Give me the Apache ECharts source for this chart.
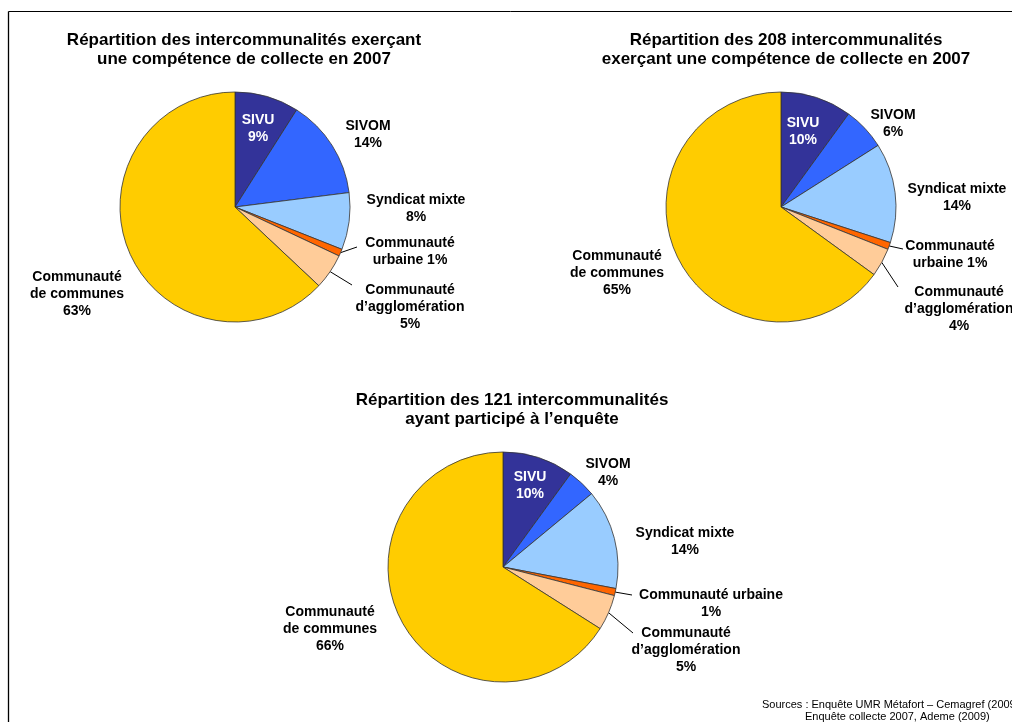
<!DOCTYPE html>
<html><head><meta charset="utf-8">
<script src="https://cdn.jsdelivr.net/npm/echarts@6/dist/echarts.min.js"></script>
<style>html,body{margin:0;padding:0;background:#fff}#c{width:1012px;height:722px}</style>
</head><body><div id="c"></div>
<script>
// ---- data ----
const categories = ['SIVU', 'SIVOM', 'Syndicat mixte', 'Communauté urbaine', 'Communauté d’agglomération', 'Communauté de communes'];
const values1 = [9, 14, 8, 1, 5, 63];
const values2 = [10, 6, 14, 1, 4, 65];
const values3 = [10, 4, 14, 1, 5, 66];
const labels1 = ['SIVU\n{v}%', 'SIVOM\n{v}%', 'Syndicat mixte\n{v}%', 'Communauté\nurbaine {v}%', 'Communauté\nd’agglomération\n{v}%', 'Communauté\nde communes\n{v}%'];
const labels2 = ['SIVU\n{v}%', 'SIVOM\n{v}%', 'Syndicat mixte\n{v}%', 'Communauté\nurbaine {v}%', 'Communauté\nd’agglomération\n{v}%', 'Communauté\nde communes\n{v}%'];
const labels3 = ['SIVU\n{v}%', 'SIVOM\n{v}%', 'Syndicat mixte\n{v}%', 'Communauté urbaine\n{v}%', 'Communauté\nd’agglomération\n{v}%', 'Communauté\nde communes\n{v}%'];
const title1 = 'Répartition des intercommunalités exerçant\nune compétence de collecte en 2007';
const title2 = 'Répartition des 208 intercommunalités\nexerçant une compétence de collecte en 2007';
const title3 = 'Répartition des 121 intercommunalités\nayant participé à l’enquête';
const source1 = 'Sources : Enquête UMR Métafort – Cemagref (2009)';
const source2 = 'Enquête collecte 2007, Ademe (2009)';

// ---- style / layout ----
const colors = ['#333399', '#3366FF', '#99CCFF', '#FF6600', '#FFCC99', '#FFCC00'];
const FONT = '"Liberation Sans", Arial, sans-serif';
const layouts = [
  { center: [235, 207], r: 115, titleX: 244, titleTop: 31,
    labelPos: [[258, 129], [368, 134.5], [416, 208.5], [410, 251.5], [410, 307.5], [77, 294.5]],
    lineEnd: { 3: [357, 247], 4: [352, 285] } },
  { center: [781, 207], r: 115, titleX: 786, titleTop: 31,
    labelPos: [[803, 131.5], [893, 123.5], [957, 197.5], [950, 254.5], [959, 309], [617, 273]],
    lineEnd: { 3: [903, 249], 4: [898, 287] } },
  { center: [503, 567], r: 115, titleX: 512, titleTop: 391,
    labelPos: [[530, 485.5], [608, 472.5], [685, 541.5], [711, 604], [686, 650], [330, 629.5]],
    lineEnd: { 3: [632, 595], 4: [633, 633] } }
];
const allValues = [values1, values2, values3];
const allLabels = [labels1, labels2, labels3];
const allTitles = [title1, title2, title3];

function buildSeries(k) {
  const L = layouts[k];
  const vals = allValues[k];
  const labs = allLabels[k];
  return {
    type: 'pie',
    center: L.center,
    radius: [0, L.r],
    startAngle: 90,
    clockwise: true,
    avoidLabelOverlap: false,
    animation: false,
    silent: true,
    itemStyle: { borderColor: '#333333', borderWidth: 0.8 },
    label: {
      show: true, position: 'outside', fontFamily: FONT, fontWeight: 'bold',
      fontSize: 14, lineHeight: 17, color: '#000', align: 'center'
    },
    labelLine: { show: false, lineStyle: { color: '#000', width: 1 } },
    labelLayout: function (p) {
      const pos = L.labelPos[p.dataIndex];
      const res = { x: pos[0], y: pos[1], align: 'center', verticalAlign: 'middle' };
      const le = L.lineEnd[p.dataIndex];
      if (le && p.labelLinePoints && p.labelLinePoints.length) {
        res.labelLinePoints = [p.labelLinePoints[0], le];
      }
      return res;
    },
    data: categories.map(function (c, i) {
      const item = {
        name: c, value: vals[i],
        itemStyle: { color: colors[i] },
        label: { formatter: labs[i].replace('{v}', vals[i]) }
      };
      if (i === 0) item.label.color = '#FFFFFF';
      if (L.lineEnd[i]) item.labelLine = { show: true, length: 10, length2: 10 };
      return item;
    })
  };
}

const chart = echarts.init(document.getElementById('c'), null, { renderer: 'canvas' });
chart.setOption({
  backgroundColor: '#FFFFFF',
  animation: false,
  title: allTitles.map(function (t, k) {
    return {
      text: t, left: layouts[k].titleX, top: layouts[k].titleTop, textAlign: 'center', padding: 0,
      textStyle: { fontFamily: FONT, fontWeight: 'bold', fontSize: 17, lineHeight: 19, color: '#000' }
    };
  }),
  graphic: [
    { type: 'line', shape: { x1: 8.5, y1: 11.5, x2: 1012, y2: 11.5 }, style: { stroke: '#000', lineWidth: 1 } },
    { type: 'line', shape: { x1: 8.5, y1: 11.5, x2: 8.5, y2: 722 }, style: { stroke: '#000', lineWidth: 1.3 } },
    { type: 'text', left: 762, top: 699, style: { text: source1, font: '11px ' + FONT, fill: '#000' } },
    { type: 'text', left: 805, top: 711, style: { text: source2, font: '11px ' + FONT, fill: '#000' } }
  ],
  series: [buildSeries(0), buildSeries(1), buildSeries(2)]
});
</script>
</body></html>
